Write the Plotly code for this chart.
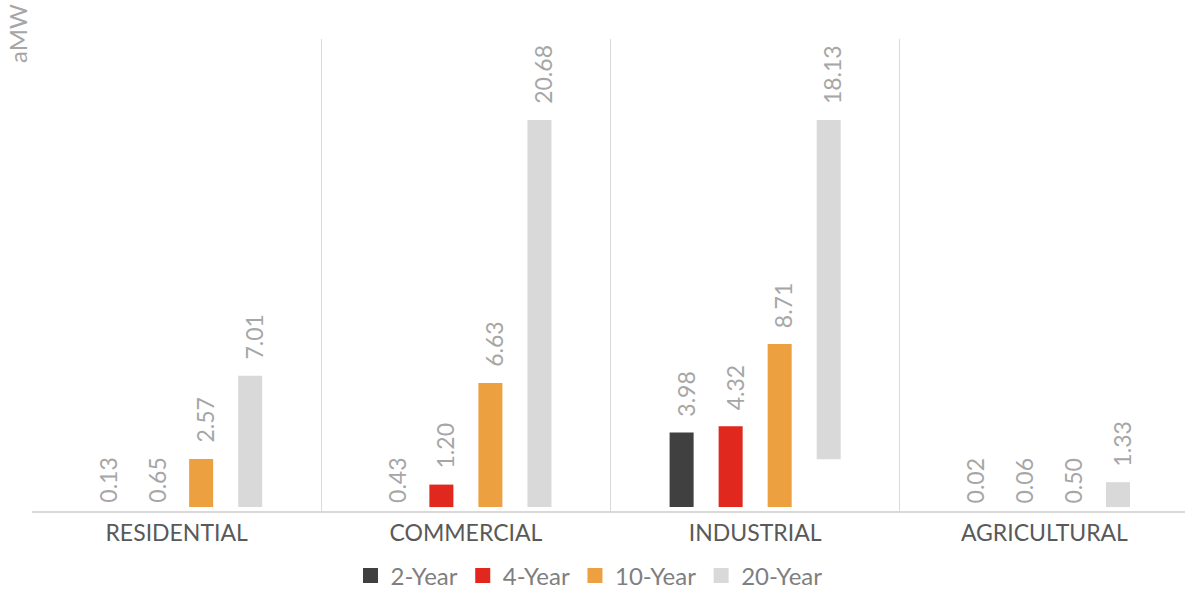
import plotly.graph_objects as go

# Savings by sector and planning horizon (aMW)
categories = ["RESIDENTIAL", "COMMERCIAL", "INDUSTRIAL", "AGRICULTURAL"]
series_names = ["2-Year", "4-Year", "10-Year", "20-Year"]
values_2yr = [0.13, 0.43, 3.98, 0.02]
values_4yr = [0.65, 1.20, 4.32, 0.06]
values_10yr = [2.57, 6.63, 8.71, 0.50]
values_20yr = [7.01, 20.68, 18.13, 1.33]
# starting level of each 20-Year column
base_20yr = [0, 0, 2.55, 0]

# which columns are filled in
filled_2yr = [False, False, True, False]
filled_4yr = [False, True, True, False]
filled_10yr = [True, True, True, False]
filled_20yr = [True, True, True, True]

colors = ["#404040", "#E0281E", "#EDA03F", "#D9D9D9"]
FONT = "Lato"
LABEL_GRAY = "#A6A6A6"

series_values = [values_2yr, values_4yr, values_10yr, values_20yr]
series_bases = [[0] * 4, [0] * 4, [0] * 4, base_20yr]
series_filled = [filled_2yr, filled_4yr, filled_10yr, filled_20yr]

BARGAP = 0.322
fig = go.Figure()
for name, vals, base, filled, col in zip(series_names, series_values, series_bases, series_filled, colors):
    fig.add_trace(go.Bar(
        x=categories, y=vals, base=base, name=name,
        marker=dict(color=col, opacity=[1 if f else 0 for f in filled], line=dict(width=0)),
        showlegend=False, hoverinfo="skip",
    ))
    # legend swatch
    fig.add_trace(go.Scatter(
        x=[None], y=[None], mode="markers", name=name,
        marker=dict(symbol="square", size=15, color=col),
    ))

# page geometry (pixels)
L, R, T, B, W, H = 32, 0, 39, 79, 1185, 590
pw, ph = W - L - R, H - T - B

# value labels above each column
slot = (1 - BARGAP) / 4
annotations = []
for i, (vals, base, filled) in enumerate(zip(series_values, series_bases, series_filled)):
    for j, v in enumerate(vals):
        top = base[j] + v if filled[j] else 0
        annotations.append(dict(
            x=j + (i - 1.5) * slot, y=top, xref="x", yref="y",
            text=f"{v:.2f}", showarrow=False, textangle=-90,
            xanchor="center", yanchor="bottom",
            xshift=4, yshift=14 if filled[j] else 2,
            font=dict(family=FONT, size=23, color=LABEL_GRAY),
        ))

# unit caption at the top-left corner
annotations.append(dict(
    x=(18 - L) / pw, y=(H - B - 34) / ph, xref="paper", yref="paper",
    xanchor="center", yanchor="middle",
    text="aMW", showarrow=False, textangle=-90,
    font=dict(family=FONT, size=24, color=LABEL_GRAY),
))

fig.update_layout(
    width=W, height=H,
    margin=dict(l=L, r=R, t=T, b=B, pad=0, autoexpand=False),
    paper_bgcolor="white", plot_bgcolor="white",
    barmode="group", bargap=BARGAP, bargroupgap=0.51,
    font=dict(family=FONT, color="#595959"),
    xaxis=dict(
        type="category", range=[-0.5, 3.486],
        tickson="boundaries", showgrid=True, gridcolor="#D9D9D9", gridwidth=1,
        showline=True, linecolor="#D9D9D9", linewidth=2,
        ticks="", tickfont=dict(family=FONT, size=23, color="#595959"),
    ),
    yaxis=dict(
        range=[-0.21, 25], showgrid=False, zeroline=False,
        showticklabels=False, showline=False, fixedrange=True,
    ),
    legend=dict(
        orientation="h", x=(589 - L) / pw, xanchor="center",
        y=-(576 - (H - B)) / ph, yanchor="middle",
        font=dict(family=FONT, size=24, color="#7F7F7F"),
        itemclick=False,
    ),
    annotations=annotations,
)

fig.write_html("out.html")
